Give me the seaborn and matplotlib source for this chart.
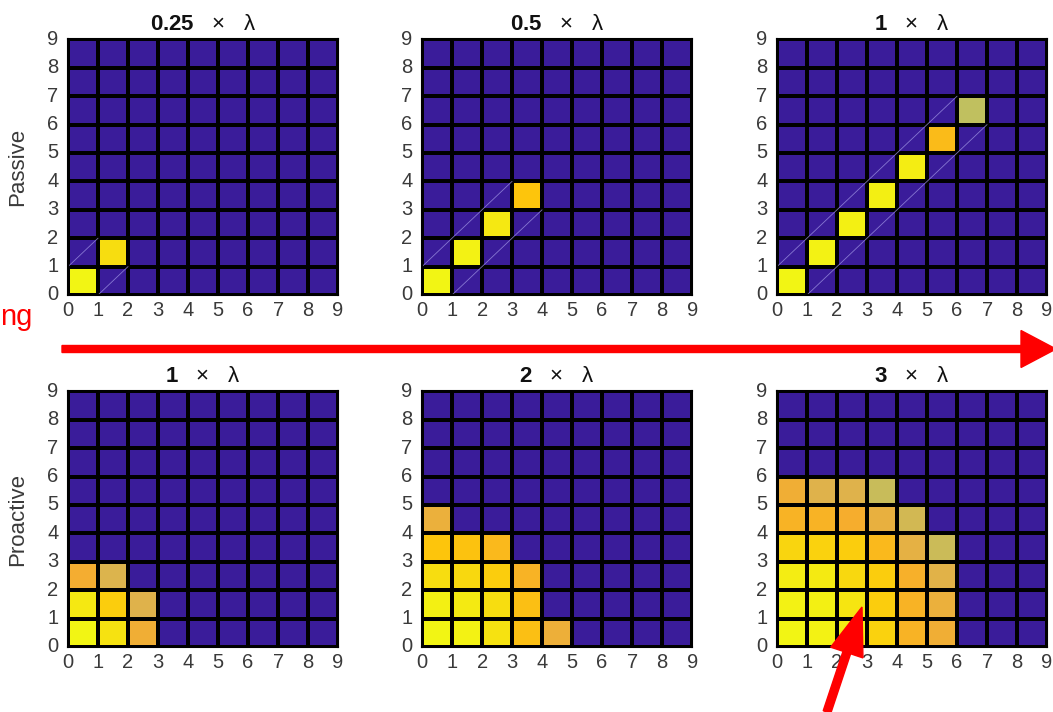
import numpy as np
import seaborn as sns
import matplotlib.pyplot as plt
from matplotlib.colors import LinearSegmentedColormap
from matplotlib.patches import FancyArrow
from matplotlib.transforms import IdentityTransform

# ------------------- Data -------------------
ticks = list(range(10))
factors = ["0.25", "0.5", "1", "1", "2", "3"]
row_labels = ["Passive", "Proactive"]

# each panel: rows from y=0 upward, columns x=0..8 (0 = background)
passive_025 = [[1.0, 0, 0, 0, 0, 0, 0, 0, 0],
               [0, 0.85, 0, 0, 0, 0, 0, 0, 0]]
passive_05 = [[1.0, 0, 0, 0, 0, 0, 0, 0, 0],
              [0, 0.98, 0, 0, 0, 0, 0, 0, 0],
              [0, 0, 0.92, 0, 0, 0, 0, 0, 0],
              [0, 0, 0, 0.70, 0, 0, 0, 0, 0]]
passive_1 = [[1.0, 0, 0, 0, 0, 0, 0, 0, 0],
             [0, 0.98, 0, 0, 0, 0, 0, 0, 0],
             [0, 0, 0.97, 0, 0, 0, 0, 0, 0],
             [0, 0, 0, 0.96, 0, 0, 0, 0, 0],
             [0, 0, 0, 0, 0.95, 0, 0, 0, 0],
             [0, 0, 0, 0, 0, 0.62, 0, 0, 0],
             [0, 0, 0, 0, 0, 0, 0.06, 0, 0]]
proactive_1 = [[1.0, 0.88, 0.45, 0, 0, 0, 0, 0, 0],
               [0.92, 0.75, 0.30, 0, 0, 0, 0, 0, 0],
               [0.48, 0.28, 0, 0, 0, 0, 0, 0, 0]]
proactive_2 = [[1.0, 0.98, 0.88, 0.65, 0.42, 0, 0, 0, 0],
               [0.97, 0.93, 0.85, 0.65, 0, 0, 0, 0, 0],
               [0.85, 0.82, 0.75, 0.55, 0, 0, 0, 0, 0],
               [0.70, 0.68, 0.60, 0, 0, 0, 0, 0, 0],
               [0.40, 0, 0, 0, 0, 0, 0, 0, 0]]
proactive_3 = [[1.0, 0.98, 0.95, 0.78, 0.55, 0.45, 0, 0, 0],
               [0.98, 0.97, 0.90, 0.75, 0.55, 0.40, 0, 0, 0],
               [0.95, 0.93, 0.82, 0.75, 0.52, 0.32, 0, 0, 0],
               [0.80, 0.78, 0.75, 0.60, 0.35, 0.15, 0, 0, 0],
               [0.55, 0.55, 0.50, 0.38, 0.20, 0, 0, 0, 0],
               [0.45, 0.30, 0.30, 0.12, 0, 0, 0, 0, 0]]
panels = [passive_025, passive_05, passive_1, proactive_1, proactive_2, proactive_3]
# number of diagonal cells bounded by the faint lines (top row only)
diag_len = [2, 4, 7, 0, 0, 0]

# ------------------- Style -------------------
sns.set_style("white")
plt.rcParams['font.family'] = ['Liberation Sans', 'DejaVu Sans']
plt.rcParams['mathtext.fontset'] = 'custom'
plt.rcParams['mathtext.bf'] = 'Liberation Sans:bold'

purple = "#3a1c9a"
cmap = LinearSegmentedColormap.from_list(
    "warm", [(0.0, "#bfc060"), (0.27, "#e0b24a"), (0.47, "#f6ad2e"),
             (0.68, "#fdc40c"), (1.0, "#f2f514")])
cmap.set_under(purple)

fig = plt.figure(figsize=(10.53, 7.12), dpi=100)
lefts = [0.0646, 0.4008, 0.7379]
bottoms = [0.5857, 0.0913]

for i, vals in enumerate(panels):
    r, c = divmod(i, 3)
    ax = fig.add_axes([lefts[c], bottoms[r], 0.2565, 0.359])
    grid = np.zeros((9, 9))
    arr = np.array(vals)
    grid[:arr.shape[0], :] = arr
    sns.heatmap(grid, ax=ax, cmap=cmap, vmin=0.05, vmax=1, cbar=False,
                linewidths=1.5, linecolor="black")
    ax.set_ylim(0, 9)
    ax.set_xlim(0, 9)
    n = diag_len[i]
    if n:
        ax.plot([0, n - 1], [1, n], color="#9a8ee0", lw=0.6, alpha=0.8)
        ax.plot([1, n], [0, n - 1], color="#9a8ee0", lw=0.6, alpha=0.8)
    ax.set_xticks(ticks)
    ax.set_yticks(ticks)
    ax.set_xticklabels(ticks, rotation=0)
    ax.set_yticklabels(ticks, rotation=0)
    ax.tick_params(length=0, labelsize=14.5, labelcolor="#3a3a3a")
    ax.tick_params(axis="y", pad=7)
    ax.tick_params(axis="x", pad=4)
    for s in ax.spines.values():
        s.set_visible(True)
        s.set_color("black")
        s.set_linewidth(1.5)
    ax.set_title(r"$\mathbf{%s}$   ×   λ" % factors[i], fontsize=16, pad=7, color="#111111")
    if c == 0:
        ax.set_ylabel(row_labels[r], fontsize=16, color="#3a3a3a")
        ax.yaxis.set_label_coords(-0.148, 0.5)

# ------------------- Annotations -------------------
fig.text(0.0, 0.555, "ng", color="red", fontsize=21, ha="left", va="center")
fig.add_artist(FancyArrow(62, 363, 994, 0, width=7, head_width=37, head_length=35,
                          length_includes_head=True, color="red", transform=IdentityTransform()))
fig.add_artist(FancyArrow(827, 0, 35, 105, width=8, head_width=34, head_length=48,
                          length_includes_head=True, color="red", transform=IdentityTransform()))

plt.savefig("out.png", dpi=100)
